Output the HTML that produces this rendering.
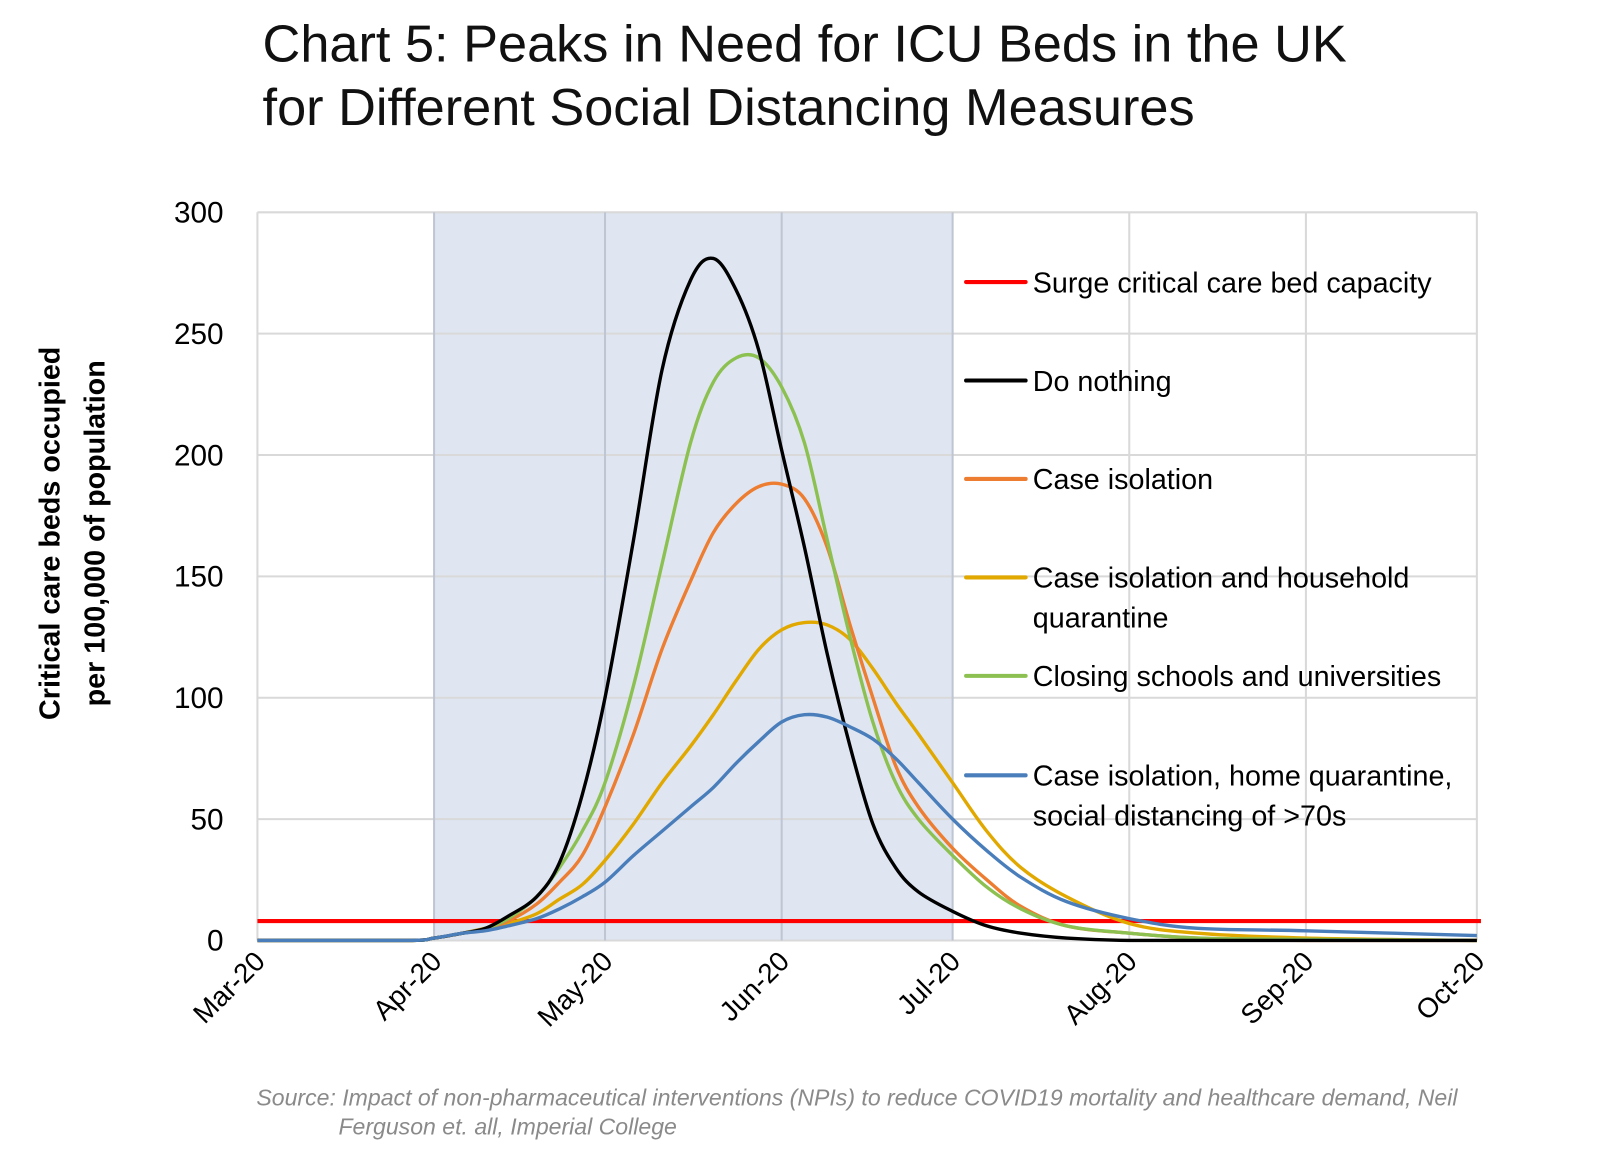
<!DOCTYPE html>
<html><head><meta charset="utf-8"><style>
body{margin:0;background:#fff;}
svg{display:block;font-family:"Liberation Sans",sans-serif;}
</style></head><body>
<svg id="chart" width="1600" height="1174" viewBox="0 0 1600 1174">
<g transform="scale(1.0256)">
<text x="256" y="60" font-size="51" fill="#111">Chart 5: Peaks in Need for ICU Beds in the UK</text>
<text x="256" y="122" font-size="51" fill="#111">for Different Social Distancing Measures</text>
<g id="plot"></g>
<g transform="translate(58,520) rotate(-90)">
<text x="0" y="0" text-anchor="middle" font-size="28" font-weight="bold">Critical care beds occupied</text>
<text x="0" y="44" text-anchor="middle" font-size="28" font-weight="bold">per 100,000 of population</text>
</g>
<text x="250" y="1078" font-size="22.5" font-style="italic" fill="#8a8a8a">Source: Impact of non-pharmaceutical interventions (NPIs) to reduce COVID19 mortality and healthcare demand, Neil</text>
<text x="330" y="1106" font-size="22.5" font-style="italic" fill="#8a8a8a">Ferguson et. all, Imperial College</text>
</g>
</svg>
<script>
const days = [0,26,31,36,40,44,49,53,57,61,66,71,76,80,84,88,92,96,100,104,108,112,116,122,128,134,142,153,165,184,214];
const doNothing = [0,0,1,3,5,10,18,32,60,100,165,235,272,281,268,243,202,162,118,80,48,30,20,12,6,3,1,0,0,0,0];
const closingSchools = [0,0,1,3,5,9,18,30,45,65,105,155,205,230,240,240,228,205,165,125,90,65,50,35,22,13,6,3,1,0.5,0];
const caseIsolation = [0,0,1,3,5,8,15,24,35,55,85,120,148,168,180,187,188,182,162,130,100,72,55,38,25,14,6,3,1,0,0];
const householdQuarantine = [0,0,1,3,5,7,11,17,23,33,48,65,80,93,107,120,128,131,130,124,112,98,85,65,45,30,18,7,3,1,0];
const homeQuarantine70 = [0,0,1,3,4,6,9,13,18,24,35,45,55,63,73,82,90,93,92,88,83,75,65,50,37,26,16,9,5,4,2];
const surgeCapacity = 8;
const monthLabels = ["Mar-20","Apr-20","May-20","Jun-20","Jul-20","Aug-20","Sep-20","Oct-20"];
const monthDays = [0,31,61,92,122,153,184,214];
const yTicks = [0,50,100,150,200,250,300];
const shadeRange = [31,122];

const NS="http://www.w3.org/2000/svg";
const X0=251,X1=1440,Y0=917,Y1=207;
const xs=d=>X0+(d/214)*(X1-X0);
const ys=v=>Y0-(v/300)*(Y0-Y1);
const plot=document.getElementById('plot');
function mk(tag,attrs,parent){const e=document.createElementNS(NS,tag);for(const k in attrs)e.setAttribute(k,attrs[k]);(parent||plot).appendChild(e);return e;}

let r=mk('rect',{x:xs(shadeRange[0]),y:Y1,width:xs(shadeRange[1])-xs(shadeRange[0]),height:Y0-Y1,fill:'#dfe6f2'});



yTicks.forEach(t=>{
  let l=mk('line',{x1:X0,x2:X1,y1:ys(t),y2:ys(t),stroke:'#d9d9d9','stroke-width':2});
  
  
  let tx=mk('text',{x:218,y:ys(t)+10,'text-anchor':'end','font-size':29,fill:'#000'});
  tx.textContent=t;
  
  
});
monthDays.forEach((d,i)=>{
  const inShade=d>=shadeRange[0]&&d<=shadeRange[1];
  let l=mk('line',{x1:xs(d),x2:xs(d),y1:Y1,y2:Y0,stroke:inShade?'#bfc6d3':'#d9d9d9','stroke-width':2});
  
  
  let tx=mk('text',{x:0,y:0,'text-anchor':'end','font-size':27,fill:'#000',transform:`translate(${xs(d)+9},${Y0+22}) rotate(-45)`});
  tx.textContent=monthLabels[i];
  
  
});

let s=mk('line',{x1:X0,x2:X1+4,y1:ys(surgeCapacity),y2:ys(surgeCapacity),stroke:'#ff0000','stroke-width':4});



const series=[
 ['series-household-quarantine',householdQuarantine,'#e1a800'],
 ['series-case-isolation',caseIsolation,'#ed7d31'],
 ['series-closing-schools',closingSchools,'#8cc152'],
 ['series-do-nothing',doNothing,'#000000'],
 ['series-home-quarantine-70s',homeQuarantine70,'#4a7ebb']
];
series.forEach(([name,vals,col])=>{
  const pts=days.map((d,i)=>[xs(d),ys(vals[i])]);
  let dstr='M'+pts[0][0]+','+pts[0][1];
  for(let i=0;i<pts.length-1;i++){
    const p0=pts[Math.max(0,i-1)],p1=pts[i],p2=pts[i+1],p3=pts[Math.min(pts.length-1,i+2)];
    const c1=[p1[0]+(p2[0]-p0[0])/6,p1[1]+(p2[1]-p0[1])/6];
    const c2=[p2[0]-(p3[0]-p1[0])/6,p2[1]-(p3[1]-p1[1])/6];
    c1[1]=Math.min(c1[1],Y0);c2[1]=Math.min(c2[1],Y0);
    dstr+=` C${c1[0]},${c1[1]} ${c2[0]},${c2[1]} ${p2[0]},${p2[1]}`;
  }
  let p=mk('path',{d:dstr,fill:'none',stroke:col,'stroke-width':3.3,'stroke-linejoin':'round'});
  
  
});

const legend=[
 ['#ff0000',['Surge critical care bed capacity'],275],
 ['#000000',['Do nothing'],371],
 ['#ed7d31',['Case isolation'],467],
 ['#e1a800',['Case isolation and household','quarantine'],563],
 ['#8cc152',['Closing schools and universities'],659],
 ['#4a7ebb',['Case isolation, home quarantine,','social distancing of >70s'],756]
];
legend.forEach(([col,lines,y])=>{
  const g=mk('g',{});
  
  
  mk('line',{x1:942,x2:1000,y1:y,y2:y,stroke:col,'stroke-width':4,'stroke-linecap':'round'},g);
  lines.forEach((t,i)=>{
    const tx=mk('text',{x:1007,y:y+10+i*39,'font-size':28,fill:'#000'},g);
    tx.textContent=t;
  });
});
</script>
</body></html>
